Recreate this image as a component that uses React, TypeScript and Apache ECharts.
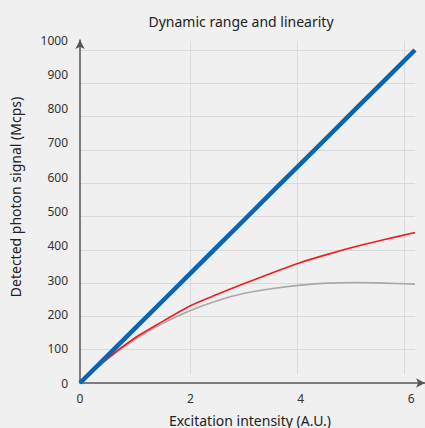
import React, { useEffect, useRef } from "react";
import * as echarts from "echarts";

const titleText = "Dynamic range and linearity";
const xAxisName = "Excitation intensity (A.U.)";
const yAxisName = "Detected photon signal (Mcps)";

const xValues = [0, 0.5, 1, 1.5, 2, 2.5, 3, 3.5, 4, 4.5, 5, 5.5, 6.07];
const idealSignal = [0, 82, 165, 247, 329, 412, 494, 577, 659, 741, 824, 906, 1000];
const correctedSignal = [0, 74, 136, 185, 232, 267, 300, 332, 362, 387, 410, 430, 452];
const rawSignal = [0, 72, 131, 179, 218, 248, 270, 284, 294, 300, 302, 300, 297];

const FONT = "Noto Sans";

export default function App() {
  const ref = useRef<HTMLDivElement>(null);

  useEffect(() => {
    if (!ref.current) return;
    const chart = echarts.init(ref.current, null, { renderer: "svg" });
    const pairs = (ys: number[]) => xValues.map((x, i) => [x, ys[i]]);

    const option: any = {
      animation: false,
      backgroundColor: "#f0f0f0",
      textStyle: { fontFamily: FONT },
      grid: [
        { left: 80, top: 50, width: 335, height: 333 },
        { left: 80, top: 40, width: 345, height: 343 },
        { left: 83.5, top: 41, width: 331.5, height: 333 },
      ],
      xAxis: [
        {
          gridIndex: 0, type: "value", min: 0, max: 6.07,
          axisLine: { show: false }, axisTick: { show: false },
          axisLabel: { show: false }, splitLine: { show: false },
        },
        {
          gridIndex: 1, type: "value", min: 0, max: 6.25, interval: 2,
          axisLine: {
            show: true, symbol: ["none", "arrow"], symbolSize: [7, 9],
            lineStyle: { color: "#555", width: 1.5 },
          },
          axisTick: { show: false },
          axisLabel: {
            show: true, showMaxLabel: false, margin: 9,
            color: "#333", fontSize: 12, fontFamily: FONT,
            formatter: (v: number) => String(v),
          },
          splitLine: { show: false },
        },
        {
          gridIndex: 2, type: "value", min: 0, max: 6.196, interval: 2,
          axisLine: { show: false }, axisTick: { show: false },
          axisLabel: { show: false },
          splitLine: {
            show: true, showMinLine: false, showMaxLine: false,
            lineStyle: { color: "#dadada", width: 1 },
          },
        },
      ],
      yAxis: [
        {
          gridIndex: 0, type: "value", min: 0, max: 1000, interval: 100,
          axisLine: { show: false }, axisTick: { show: false },
          axisLabel: { show: false },
          splitLine: {
            show: true, showMinLine: false, showMaxLine: true,
            lineStyle: { color: "#dadada", width: 1 },
          },
        },
        {
          gridIndex: 1, type: "value", min: 0, max: 1000, interval: 100,
          axisLine: {
            show: true, symbol: ["none", "arrow"], symbolSize: [7, 9],
            lineStyle: { color: "#555", width: 1.5 },
          },
          axisTick: { show: false },
          axisLabel: {
            show: true, margin: 12, color: "#333", fontSize: 12, fontFamily: FONT,
            formatter: (v: number) => String(v),
          },
          splitLine: { show: false },
        },
        {
          gridIndex: 2, type: "value", min: 0, max: 1000,
          axisLine: { show: false }, axisTick: { show: false },
          axisLabel: { show: false }, splitLine: { show: false },
        },
      ],
      series: [
        {
          type: "line", xAxisIndex: 0, yAxisIndex: 0, data: pairs(rawSignal),
          smooth: 0.3, showSymbol: false, z: 3,
          lineStyle: { color: "#a8a8a8", width: 1.6 },
        },
        {
          type: "line", xAxisIndex: 0, yAxisIndex: 0, data: pairs(correctedSignal),
          smooth: 0.3, showSymbol: false, z: 4,
          lineStyle: { color: "#f41c1c", width: 1.6 },
        },
        {
          type: "line", xAxisIndex: 0, yAxisIndex: 0, data: pairs(idealSignal),
          smooth: false, showSymbol: false, z: 5,
          lineStyle: { color: "#0865b3", width: 4.5 },
        },
      ],
      graphic: [
        {
          type: "text", x: 241, y: 21,
          style: {
            text: titleText, fill: "#222", fontSize: 14, fontFamily: FONT,
            textAlign: "center", textVerticalAlign: "middle",
          },
        },
        {
          type: "text", x: 15, y: 197, rotation: Math.PI / 2,
          style: {
            text: yAxisName, fill: "#222", fontSize: 14, fontFamily: FONT,
            textAlign: "center", textVerticalAlign: "middle",
          },
        },
        {
          type: "text", x: 250, y: 420,
          style: {
            text: xAxisName, fill: "#222", fontSize: 14, fontFamily: FONT,
            textAlign: "center", textVerticalAlign: "middle",
          },
        },
      ],
    };
    chart.setOption(option);
    return () => chart.dispose();
  }, []);

  return (
    <div
      ref={ref}
      style={{ position: "fixed", left: 0, top: 0, width: 425, height: 428 }}
    />
  );
}
